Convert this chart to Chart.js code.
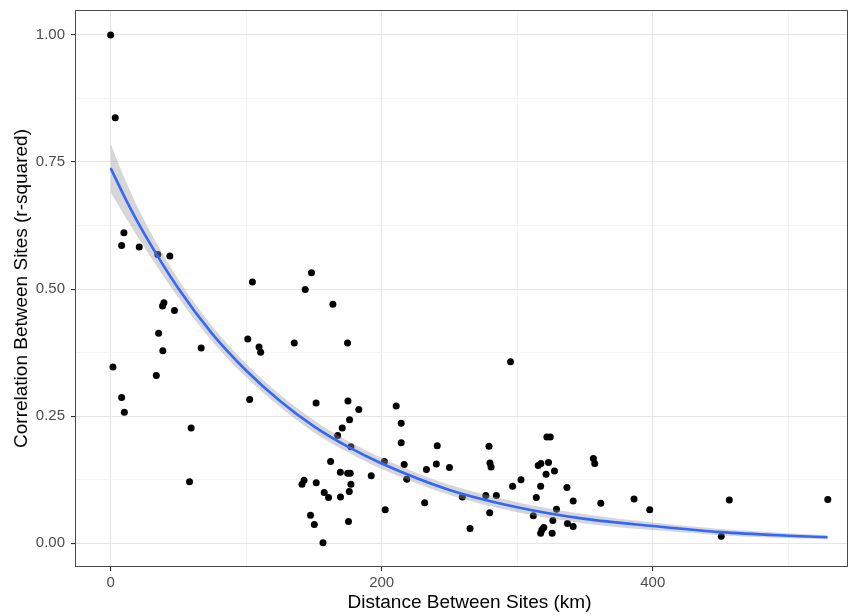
<!DOCTYPE html>
<html>
<head>
<meta charset="utf-8">
<script src="https://cdn.jsdelivr.net/npm/chart.js@4"></script>
<style>
  html, body { margin: 0; padding: 0; background: #fff; }
  canvas { display: block; }
</style>
</head>
<body>
<canvas id="chart" width="856" height="616"></canvas>
<script>
// distance between sites (km) and r-squared for each site pair
const distKm = [
  0, 3.4, 9.8, 8.1, 21.1, 34.8, 43.7, 104.6, 39.3, 38.3, 47.1, 35.4, 38.5, 66.8, 101.2, 109.5,
  110.7, 1.7, 33.7, 8.1, 102.6, 10.1, 59.4, 58.2, 148.2, 143.6, 164, 135.5, 174.8, 151.6, 175.1,
  183.1, 210.7, 176.3, 214.4, 170.9, 167.5, 214.4, 177.3, 241, 162.3, 202, 216.6, 240.3, 250,
  233, 169.5, 174.9, 176.8, 192.3, 218.5, 142.7, 141.2, 151.7, 177.3, 176.1, 157.6, 160.8,
  169.6, 231.7, 202.6, 147.5, 150.3, 175.5, 156.7, 295.1, 279.2, 321.9, 324.4, 279.9, 280.7,
  356.2, 357.2, 315.5, 317.5, 323.1, 327.5, 321.3, 302.8, 296.6, 317.3, 336.7, 259.5, 276.8,
  284.6, 314.1, 341.3, 361.7, 386.2, 329, 279.7, 311.9, 326.3, 337.1, 341.3, 265.2, 319.6,
  318.2, 317.3, 325.8, 397.8, 456.5, 450.6, 529.2
];
const rSquared = [
  1.0, 0.837, 0.611, 0.586, 0.583, 0.568, 0.565, 0.514, 0.473, 0.467, 0.458, 0.413, 0.379, 0.384, 0.402, 0.386,
  0.376, 0.347, 0.330, 0.287, 0.283, 0.258, 0.227, 0.121, 0.532, 0.499, 0.470, 0.394, 0.394, 0.276, 0.280,
  0.263, 0.270, 0.243, 0.236, 0.227, 0.212, 0.198, 0.190, 0.192, 0.161, 0.161, 0.155, 0.156, 0.149,
  0.145, 0.140, 0.138, 0.138, 0.133, 0.126, 0.124, 0.116, 0.119, 0.116, 0.102, 0.100, 0.090,
  0.091, 0.080, 0.066, 0.055, 0.037, 0.043, 0.001, 0.357, 0.191, 0.209, 0.209, 0.158, 0.150,
  0.167, 0.157, 0.153, 0.157, 0.159, 0.142, 0.136, 0.125, 0.112, 0.112, 0.110, 0.091, 0.094,
  0.094, 0.090, 0.083, 0.079, 0.087, 0.067, 0.060, 0.054, 0.045, 0.039, 0.033, 0.029, 0.031,
  0.026, 0.020, 0.020, 0.066, 0.085, 0.014, 0.086
];

// fitted curve and its confidence band
const fitX  = [0, 12, 25, 50, 75, 100, 125, 150, 175, 200, 250, 300, 350, 400, 450, 500, 529];
const fitY  = [0.738, 0.672, 0.608, 0.501, 0.412, 0.340, 0.280, 0.230, 0.190, 0.157, 0.105, 0.071, 0.048, 0.034, 0.022, 0.015, 0.012];
const bandHi = [0.786, 0.707, 0.634, 0.519, 0.427, 0.353, 0.292, 0.242, 0.201, 0.168, 0.115, 0.081, 0.057, 0.041, 0.028, 0.020, 0.016];
const bandLo = [0.690, 0.637, 0.582, 0.483, 0.397, 0.327, 0.268, 0.218, 0.179, 0.146, 0.095, 0.061, 0.039, 0.026, 0.016, 0.010, 0.008];

// axis ticks (major ones get labels)
const xTicks = [0, 100, 200, 300, 400, 500];
const xMajor = [0, 200, 400];
const yTicks = [0, 0.125, 0.25, 0.375, 0.5, 0.625, 0.75, 0.875, 1.0];
const yMajor = [0, 0.25, 0.5, 0.75, 1.0];

const xTitle = 'Distance Between Sites (km)';
const yTitle = 'Correlation Between Sites (r-squared)';

const toXY = (xs, ys) => xs.map((x, i) => ({ x: x, y: ys[i] }));
const isMajor = (list, v) => list.some(m => Math.abs(m - v) < 1e-9);

const FONT = "'Liberation Sans', Arial, sans-serif";

// panel border like theme_bw, plus the x title (centred a bit right, as in the original)
const panelBorder = {
  id: 'panelBorder',
  afterDraw(chart) {
    const { ctx, chartArea: a } = chart;
    ctx.save();
    ctx.strokeStyle = '#4a4a4a';
    ctx.lineWidth = 1;
    ctx.strokeRect(Math.round(a.left) + 0.5, Math.round(a.top) + 0.5,
                   Math.round(a.right - a.left) - 1, Math.round(a.bottom - a.top) - 1);
    ctx.fillStyle = '#000';
    ctx.font = '19px ' + FONT;
    ctx.textAlign = 'center';
    ctx.textBaseline = 'middle';
    ctx.fillText(xTitle, (a.left + a.right) / 2 + 8, chart.height - 13);
    ctx.restore();
  }
};

new Chart(document.getElementById('chart'), {
  type: 'scatter',
  data: {
    datasets: [
      {
        type: 'line', data: toXY(fitX, fitY), order: 0,
        borderColor: '#3366FF', borderWidth: 2.6, pointRadius: 0,
        cubicInterpolationMode: 'monotone', fill: false
      },
      {
        type: 'line', data: toXY(fitX, bandLo), order: 1,
        borderWidth: 0, borderColor: 'rgba(0,0,0,0)', pointRadius: 0,
        cubicInterpolationMode: 'monotone', fill: false
      },
      {
        type: 'line', data: toXY(fitX, bandHi), order: 1,
        borderWidth: 0, borderColor: 'rgba(0,0,0,0)', pointRadius: 0,
        cubicInterpolationMode: 'monotone', fill: '-1',
        backgroundColor: 'rgba(153,153,153,0.4)'
      },
      {
        data: toXY(distKm, rSquared), order: 3,
        backgroundColor: '#000', borderColor: '#000', borderWidth: 0,
        pointRadius: 3.5, pointHoverRadius: 3.5
      }
    ]
  },
  options: {
    responsive: false,
    animation: false,
    events: [],
    layout: { padding: { top: 10, right: 8, left: 0, bottom: 0 } },
    plugins: { legend: { display: false }, tooltip: { enabled: false } },
    scales: {
      x: {
        type: 'linear', min: -26.3, max: 544.1,
        afterBuildTicks: s => { s.ticks = xTicks.map(v => ({ value: v })); },
        afterFit: s => { s.height = 49; s.paddingLeft = 0; s.paddingRight = 0; },
        border: { display: false },
        grid: {
          color: c => isMajor(xMajor, c.tick.value) ? '#e6e6e6' : '#f3f3f3',
          lineWidth: c => isMajor(xMajor, c.tick.value) ? 1.1 : 0.8,
          tickColor: c => isMajor(xMajor, c.tick.value) ? '#333' : 'rgba(0,0,0,0)',
          tickLength: 4
        },
        ticks: {
          autoSkip: false, maxRotation: 0, padding: 3,
          color: '#4d4d4d', font: { family: FONT, size: 15 },
          callback: v => isMajor(xMajor, v) ? String(v) : ''
        },
        title: { display: false }
      },
      y: {
        type: 'linear', min: -0.0466, max: 1.049,
        afterBuildTicks: s => { s.ticks = yTicks.map(v => ({ value: v })); },
        afterFit: s => { s.width = 75; s.paddingTop = 0; s.paddingBottom = 0; },
        border: { display: false },
        grid: {
          color: c => isMajor(yMajor, c.tick.value) ? '#e6e6e6' : '#f3f3f3',
          lineWidth: c => isMajor(yMajor, c.tick.value) ? 1.1 : 0.8,
          tickColor: c => isMajor(yMajor, c.tick.value) ? '#333' : 'rgba(0,0,0,0)',
          tickLength: 4
        },
        ticks: {
          autoSkip: false, padding: 6,
          color: '#4d4d4d', font: { family: FONT, size: 15 },
          callback: v => isMajor(yMajor, v) ? v.toFixed(2) : ''
        },
        title: {
          display: true, text: yTitle,
          color: '#000', font: { family: FONT, size: 19 },
          padding: { top: 10, bottom: 0 }
        }
      }
    }
  },
  plugins: [panelBorder]
});
</script>
</body>
</html>
